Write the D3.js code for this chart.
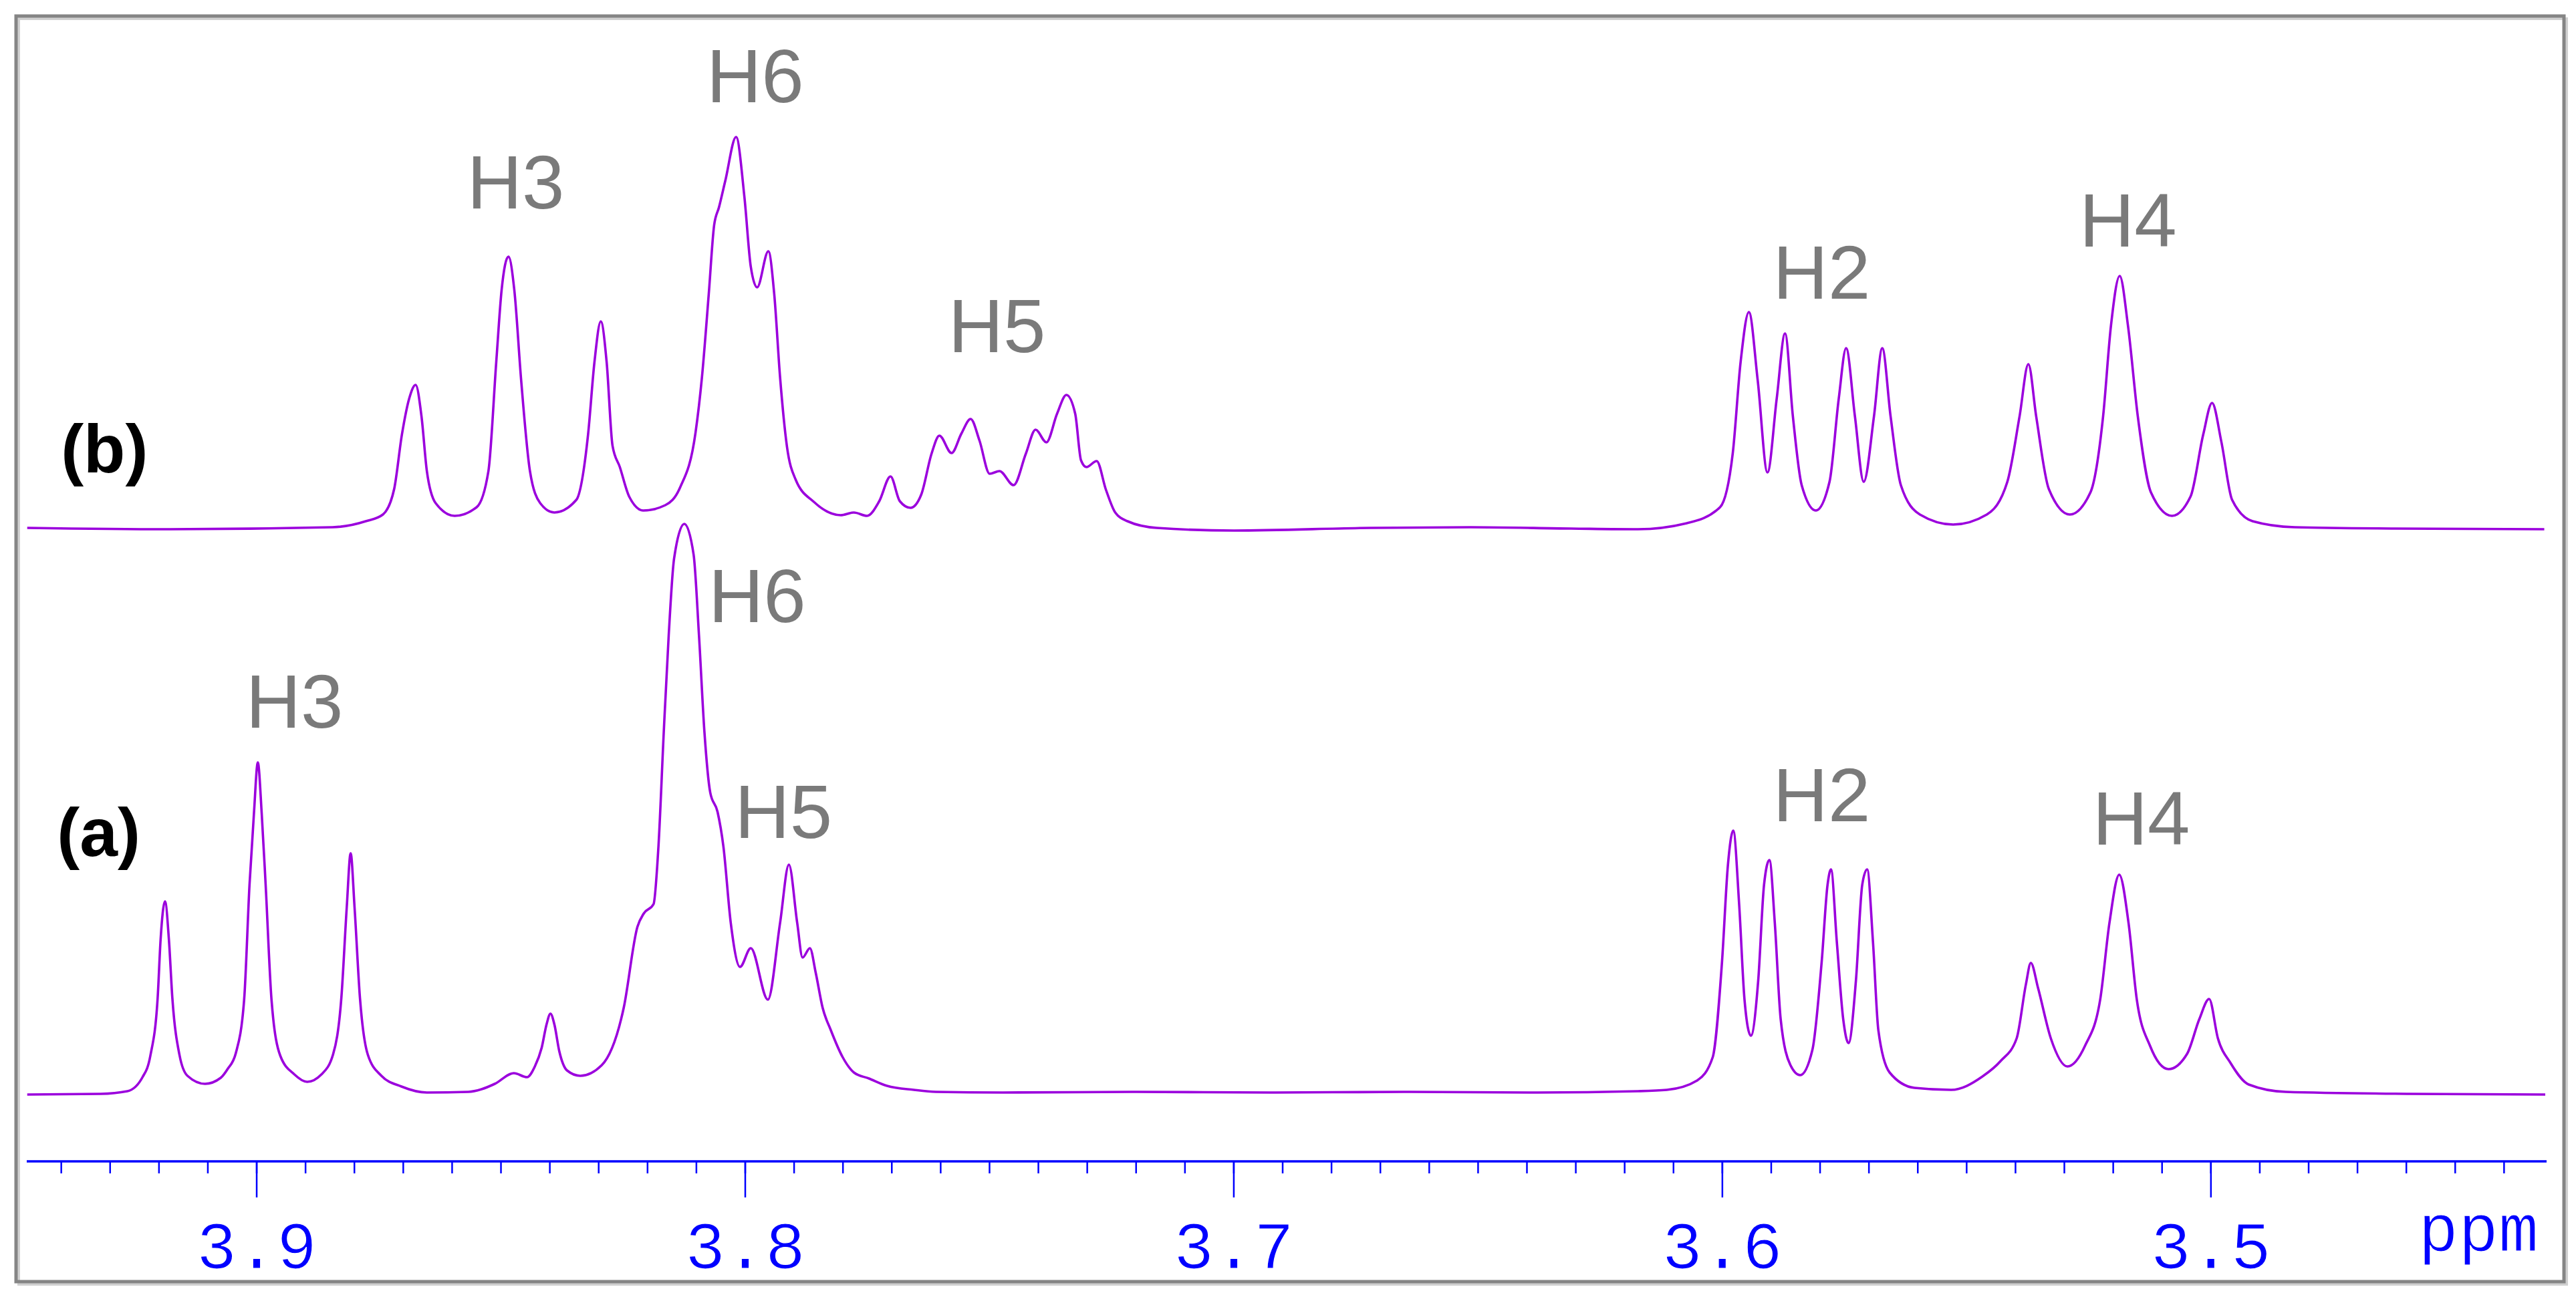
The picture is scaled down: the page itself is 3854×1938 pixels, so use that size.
<!DOCTYPE html>
<html>
<head>
<meta charset="utf-8">
<title>1H NMR spectra (a) and (b), 3.43 - 3.95 ppm</title>
<style>
  body {
    margin: 0;
    padding: 0;
    background-color: #fff;
  }

  svg {
    display: block;
  }

  .frame {
    fill: none;
    stroke: #858585;
    stroke-width: 5px;
  }

  .frame-shadow {
    fill: none;
    stroke: #d0d0d0;
    stroke-width: 4px;
  }

  .spectrum {
    fill: none;
    stroke: #9b00dd;
    stroke-width: 3.6px;
    stroke-linejoin: round;
  }

  .peak-label {
    font-family: Arial, "Liberation Sans", sans-serif;
    font-size: 114px;
    fill: #7a7a7a;
    text-anchor: middle;
  }

  .panel-label {
    font-family: Arial, "Liberation Sans", sans-serif;
    font-size: 102px;
    font-weight: bold;
    fill: #000;
  }

  .axis path,
  .axis line {
    stroke: #0000ff;
  }

  /* slightly thinned mono glyphs, closer to the light Courier of the original */
  .axis text,
  .unit-label {
    font-family: "Courier New", "Liberation Mono", monospace;
    font-size: 100px;
    fill: #0000ff;
    stroke: #fff;
    stroke-width: 1.2px;
  }

  .unit-label {
    text-anchor: end;
  }
</style>
</head>
<body>
<div id="chart"></div>

<script src="https://cdn.jsdelivr.net/npm/d3@7"></script>
<script>
  // Spectrum (a): chemical shift (ppm) and intensity (a.u.)
  const specA_ppm = [
    3.9469, 3.9319, 3.9264, 3.9233, 3.9217, 3.9202, 3.9196, 3.9187, 3.9179, 3.9172,
    3.9157, 3.9141, 3.9105, 3.9073, 3.9059, 3.9042, 3.9025, 3.9014, 3.9005, 3.8997,
    3.8989, 3.8981, 3.8969, 3.8951, 3.8922, 3.8896, 3.8867, 3.8843, 3.8826, 3.8815,
    3.8807, 3.8799, 3.8788, 3.8772, 3.8744, 3.8703, 3.8651, 3.8566, 3.8539, 3.8512,
    3.8473, 3.8446, 3.8430, 3.8416, 3.8406, 3.8398, 3.8390, 3.8380, 3.8364, 3.8337,
    3.8293, 3.8248, 3.8220, 3.8207, 3.8187, 3.8177, 3.8166, 3.8156, 3.8145, 3.8124,
    3.8105, 3.8094, 3.8083, 3.8071, 3.8056, 3.8044, 3.8029, 3.8010, 3.7988, 3.7953,
    3.7928, 3.7910, 3.7893, 3.7882, 3.7867, 3.7855, 3.7841, 3.7824, 3.7800, 3.7777,
    3.7746, 3.7709, 3.7654, 3.7609, 3.7472, 3.7198, 3.6925, 3.6651, 3.6378, 3.6172,
    3.6113, 3.6051, 3.6019, 3.6000, 3.5988, 3.5977, 3.5965, 3.5954, 3.5941, 3.5926,
    3.5914, 3.5903, 3.5892, 3.5880, 3.5860, 3.5840, 3.5815, 3.5796, 3.5784, 3.5777,
    3.5765, 3.5752, 3.5741, 3.5726, 3.5713, 3.5703, 3.5691, 3.5680, 3.5657, 3.5606,
    3.5531, 3.5467, 3.5430, 3.5397, 3.5378, 3.5368, 3.5353, 3.5327, 3.5293, 3.5257,
    3.5226, 3.5207, 3.5187, 3.5168, 3.5151, 3.5124, 3.5086, 3.5048, 3.5023, 3.5003,
    3.4985, 3.4959, 3.4922, 3.4846, 3.4592, 3.4315
  ];
  const specA_int = [
    0, 1, 5, 26, 58, 145, 232, 289, 232, 145,
    58, 28, 16, 25, 38, 62, 142, 314, 420, 497,
    420, 314, 142, 58, 30, 19, 30, 60, 145, 280,
    361, 280, 145, 60, 28, 12, 3, 4, 8, 16,
    32, 26, 42, 70, 105, 121, 105, 65, 36, 28,
    44, 130, 251, 271, 285, 371, 544, 687, 802, 854,
    808, 687, 544, 452, 423, 371, 257, 191, 219, 142,
    257, 344, 257, 205, 219, 182, 130, 96, 56, 33,
    24, 13, 7, 4, 3, 4, 3, 4, 3, 5,
    7, 21, 56, 199, 343, 395, 285, 142, 88, 170,
    314, 351, 257, 113, 44, 29, 67, 199, 314, 337,
    228, 113, 77, 170, 314, 337, 228, 96, 33, 10,
    7, 27, 50, 84, 165, 197, 159, 84, 42, 73,
    142, 257, 329, 257, 142, 73, 38, 61, 113, 143,
    84, 47, 15, 4, 1, 0
  ];

  // Spectrum (b)
  const specB_ppm = [
    3.9469, 3.9183, 3.8844, 3.8776, 3.8741, 3.8718, 3.8702, 3.8687, 3.8674, 3.8662,
    3.8651, 3.8633, 3.8594, 3.8549, 3.8525, 3.8509, 3.8498, 3.8484, 3.8472, 3.8458,
    3.8440, 3.8419, 3.8390, 3.8345, 3.8321, 3.8308, 3.8295, 3.8283, 3.8271, 3.8256,
    3.8237, 3.8208, 3.8163, 3.8133, 3.8101, 3.8088, 3.8074, 3.8063, 3.8053, 3.8040,
    3.8018, 3.8001, 3.7988, 3.7975, 3.7952, 3.7940, 3.7928, 3.7914, 3.7896, 3.7859,
    3.7804, 3.7777, 3.7750, 3.7725, 3.7702, 3.7683, 3.7661, 3.7639, 3.7618, 3.7602,
    3.7577, 3.7557, 3.7538, 3.7520, 3.7499, 3.7479, 3.7450, 3.7425, 3.7405, 3.7383,
    3.7361, 3.7342, 3.7324, 3.7312, 3.7301, 3.7280, 3.7261, 3.7242, 3.7217, 3.7157,
    3.6999, 3.6720, 3.6514, 3.6309, 3.6172, 3.6072, 3.6004, 3.5978, 3.5962, 3.5945,
    3.5927, 3.5907, 3.5888, 3.5871, 3.5855, 3.5837, 3.5808, 3.5780, 3.5761, 3.5746,
    3.5728, 3.5710, 3.5689, 3.5672, 3.5655, 3.5634, 3.5595, 3.5527, 3.5458, 3.5416,
    3.5391, 3.5373, 3.5357, 3.5331, 3.5288, 3.5246, 3.5220, 3.5204, 3.5186, 3.5169,
    3.5149, 3.5122, 3.5079, 3.5041, 3.5015, 3.4997, 3.4978, 3.4956, 3.4914, 3.4828,
    3.4624, 3.4317
  ];
  const specB_int = [
    1, -1, 2, 11, 21, 59, 141, 195, 215, 168,
    86, 38, 19, 32, 86, 249, 357, 407, 357, 222,
    86, 38, 24, 43, 141, 249, 310, 249, 124, 92,
    48, 27, 35, 61, 144, 226, 351, 454, 481, 521,
    586, 496, 392, 361, 415, 351, 226, 123, 73, 40,
    20, 24, 19, 41, 78, 41, 31, 51, 112, 139,
    113, 142, 164, 132, 82, 86, 65, 112, 148, 129,
    172, 200, 172, 102, 92, 101, 58, 24, 11, 1,
    -3, 1, 2, 0, -1, 8, 32, 113, 249, 324,
    222, 84, 195, 292, 168, 65, 27, 70, 195, 270,
    168, 70, 168, 270, 168, 65, 21, 6, 21, 70,
    168, 246, 168, 59, 21, 54, 168, 303, 378, 303,
    168, 54, 19, 48, 141, 188, 130, 43, 11, 2,
    0, -1
  ];

  // Vertical offset of trace (b) above trace (a), intensity units
  const offsetB = 847;

  // Peak assignments: name, shift of the label centre, label height (a.u.)
  const labelsA = ["H3", "H6", "H5", "H2", "H4"];
  const labelsA_ppm = [3.8922, 3.7975, 3.7921, 3.5796, 3.5142];
  const labelsA_int = [549, 707, 384, 409, 374];

  const labelsB = ["H3", "H6", "H5", "H2", "H4"];
  const labelsB_ppm = [3.8469, 3.7979, 3.7484, 3.5796, 3.5169];
  const labelsB_int = [479, 638, 264, 344, 422];

  // Axis ticks
  const majorTicks = [3.9, 3.8, 3.7, 3.6, 3.5];
  const minorTicks = d3.range(394, 343, -1).map(d => d / 100);

  const width = 3854;
  const height = 1938;
  const axisY = 1738;

  const svg = d3.select("#chart")
    .append("svg")
    .attr("width", width)
    .attr("height", height)
    .attr("viewBox", [0, 0, width, height]);

  svg.append("rect")
    .attr("width", width)
    .attr("height", height)
    .attr("fill", "#fff");

  // Frame with a soft shadow
  svg.append("rect")
    .attr("class", "frame-shadow")
    .attr("x", 28).attr("y", 28)
    .attr("width", 3812).attr("height", 1894);

  svg.append("rect")
    .attr("class", "frame")
    .attr("x", 24).attr("y", 24)
    .attr("width", 3812).attr("height", 1894);

  // Scales (NMR convention: shift decreases to the right)
  const x = d3.scaleLinear()
    .domain([3.947, 3.4315])
    .range([40, 3808]);

  const y = d3.scaleLinear()
    .domain([0, 1000])
    .range([1638, 638]);

  const line = d3.line()
    .x(d => x(d[0]))
    .y(d => y(d[1]))
    .curve(d3.curveMonotoneX);

  const traceA = specA_ppm.map((p, i) => [p, specA_int[i]]);
  const traceB = specB_ppm.map((p, i) => [p, specB_int[i] + offsetB]);

  svg.append("path")
    .datum(traceB)
    .attr("class", "spectrum")
    .attr("d", line);

  svg.append("path")
    .datum(traceA)
    .attr("class", "spectrum")
    .attr("d", line);

  // Peak labels
  svg.append("g")
    .selectAll("text")
    .data(labelsB)
    .join("text")
    .attr("class", "peak-label")
    .attr("x", (d, i) => x(labelsB_ppm[i]))
    .attr("y", (d, i) => y(labelsB_int[i] + offsetB))
    .text(d => d);

  svg.append("g")
    .selectAll("text")
    .data(labelsA)
    .join("text")
    .attr("class", "peak-label")
    .attr("x", (d, i) => x(labelsA_ppm[i]))
    .attr("y", (d, i) => y(labelsA_int[i]))
    .text(d => d);

  // Panel labels
  svg.append("text")
    .attr("class", "panel-label")
    .attr("x", x(3.9400))
    .attr("y", y(84 + offsetB))
    .text("(b)");

  svg.append("text")
    .attr("class", "panel-label")
    .attr("x", x(3.9408))
    .attr("y", y(357))
    .text("(a)");

  // Chemical shift axis: minor ticks every 0.01 ppm, labelled majors every 0.1
  const minorAxis = d3.axisBottom(x)
    .tickValues(minorTicks)
    .tickSize(18)
    .tickSizeOuter(0)
    .tickFormat("");

  const majorAxis = d3.axisBottom(x)
    .tickValues(majorTicks)
    .tickSize(54)
    .tickSizeOuter(0)
    .tickPadding(35)
    .tickFormat(d3.format(".1f"));

  const gMinor = svg.append("g")
    .attr("class", "axis")
    .attr("transform", `translate(0,${axisY})`)
    .call(minorAxis);

  gMinor.select(".domain")
    .attr("stroke-width", 3.5)
    .attr("d", `M${x.range()[0]},0H${x.range()[1] + 2}`);
  gMinor.selectAll(".tick line").attr("stroke-width", 2.5);

  const gMajor = svg.append("g")
    .attr("class", "axis")
    .attr("transform", `translate(0,${axisY})`)
    .call(majorAxis);

  gMajor.select(".domain").remove();
  gMajor.selectAll(".tick line").attr("stroke-width", 2.5);

  svg.append("text")
    .attr("class", "unit-label")
    .attr("x", 3798)
    .attr("y", 1872)
    .text("ppm");
</script>
</body>
</html>
